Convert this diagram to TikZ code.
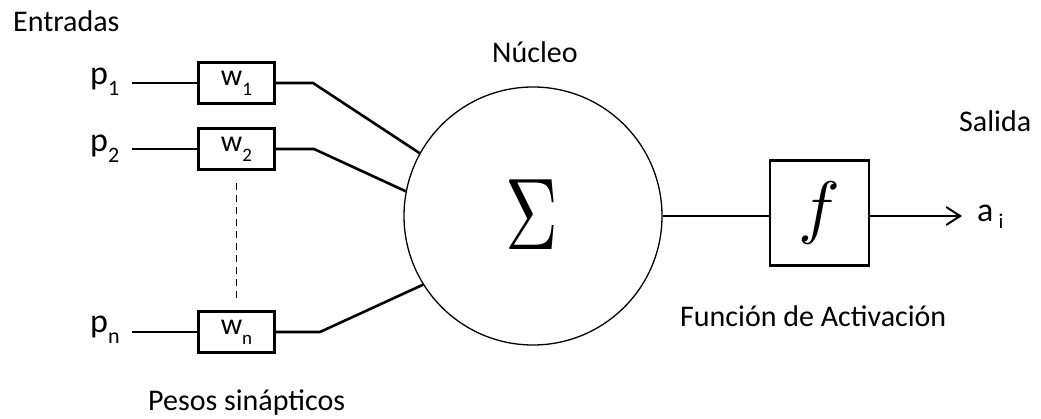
\documentclass[tikz,border=0pt]{standalone}
\usepackage{fontspec}
\setmainfont{Carlito}
\usetikzlibrary{arrows.meta}
% input symbol with lowered index
\newcommand\insym[1]{{\fontsize{34}{40}\selectfont p\raisebox{-11pt}{\fontsize{22}{22}\selectfont #1}}}
% weight symbol with lowered index
\newcommand\wsym[1]{{\fontsize{30}{36}\selectfont w\raisebox{-10pt}{\fontsize{19}{19}\selectfont #1}}}
\begin{document}
\begin{tikzpicture}[x=1pt,y=-1pt,
  txt/.style={inner sep=0pt, anchor=base west, font=\fontsize{30}{36}\selectfont},
  weight/.style={draw, line width=2.6pt, minimum width=76pt, minimum height=41pt, inner sep=0pt},
  wire/.style={line width=2.6pt}]
\useasboundingbox (0,0) rectangle (1041,419);

% labels
\node[txt] (ent) at (13,32) {Entradas};
\node[txt] (nuc) at (492,63) {Núcleo};
\node[txt] (sal) at (959,132) {Salida};
\node[txt] (act) at (680,327) {Función de Activación};
\node[txt] (pes) at (148,410) {Pesos sinápticos};

% inputs
\node[inner sep=0pt, anchor=base west] (p1) at (90,85) {\insym{1}};
\node[inner sep=0pt, anchor=base west] (p2) at (90,152) {\insym{2}};
\node[inner sep=0pt, anchor=base west] (pn) at (90,333) {\insym{n}};
\coordinate (i1) at (132,83);
\coordinate (i2) at (132,149);
\coordinate (in) at (132,332);

% weights
\node[weight] (w1) at (236.5,83) {\wsym{1}};
\node[weight] (w2) at (236.5,149) {\wsym{2}};
\node[weight] (wn) at (236.5,332) {\wsym{n}};

% summing node
\node[draw, circle, line width=1.3pt, minimum size=258pt, inner sep=0pt] (sum) at (533,216) {};
\node[inner sep=0pt] (sig) at (532,215) {\scalebox{7.3}[10.2]{$\Sigma$}};

% activation block
\node[draw, line width=2.6pt, minimum width=99pt, minimum height=105pt, inner sep=0pt] (fbox) at (819.5,213) {};
\node[inner sep=0pt] (fsym) at (fbox.center) {\scalebox{7}{$f$}};

% output
\node[inner sep=0pt, anchor=base west] (ai) at (977,222) {{\fontsize{34}{40}\selectfont a\hspace{5pt}\raisebox{-7pt}{\fontsize{21}{21}\selectfont i}}};
\coordinate (out) at (962,216);

% bend points
\coordinate (b1) at (313,83);
\coordinate (b2) at (314,149);
\coordinate (bn) at (320,332);

% wiring
\draw[wire] (i1) -- (w1.west);
\draw[wire] (i2) -- (w2.west);
\draw[wire] (in) -- (wn.west);
\draw[wire] (w1.east) -- (b1) -- (sum.151);
\draw[wire] (w2.east) -- (b2) -- (sum.169);
\draw[wire] (wn.east) -- (bn) -- (sum.212);
\draw[line width=1.5pt, dash pattern=on 7pt off 5pt, shorten <=12pt, shorten >=10pt] (w2.south) -- (wn.north);
\draw[wire] (sum.east) -- (sum.east -| fbox.west);
\draw[wire, -{Straight Barb[length=14pt,width=18pt,line width=2pt]}] (sum.east -| fbox.east) -- (out);
\end{tikzpicture}
\end{document}
